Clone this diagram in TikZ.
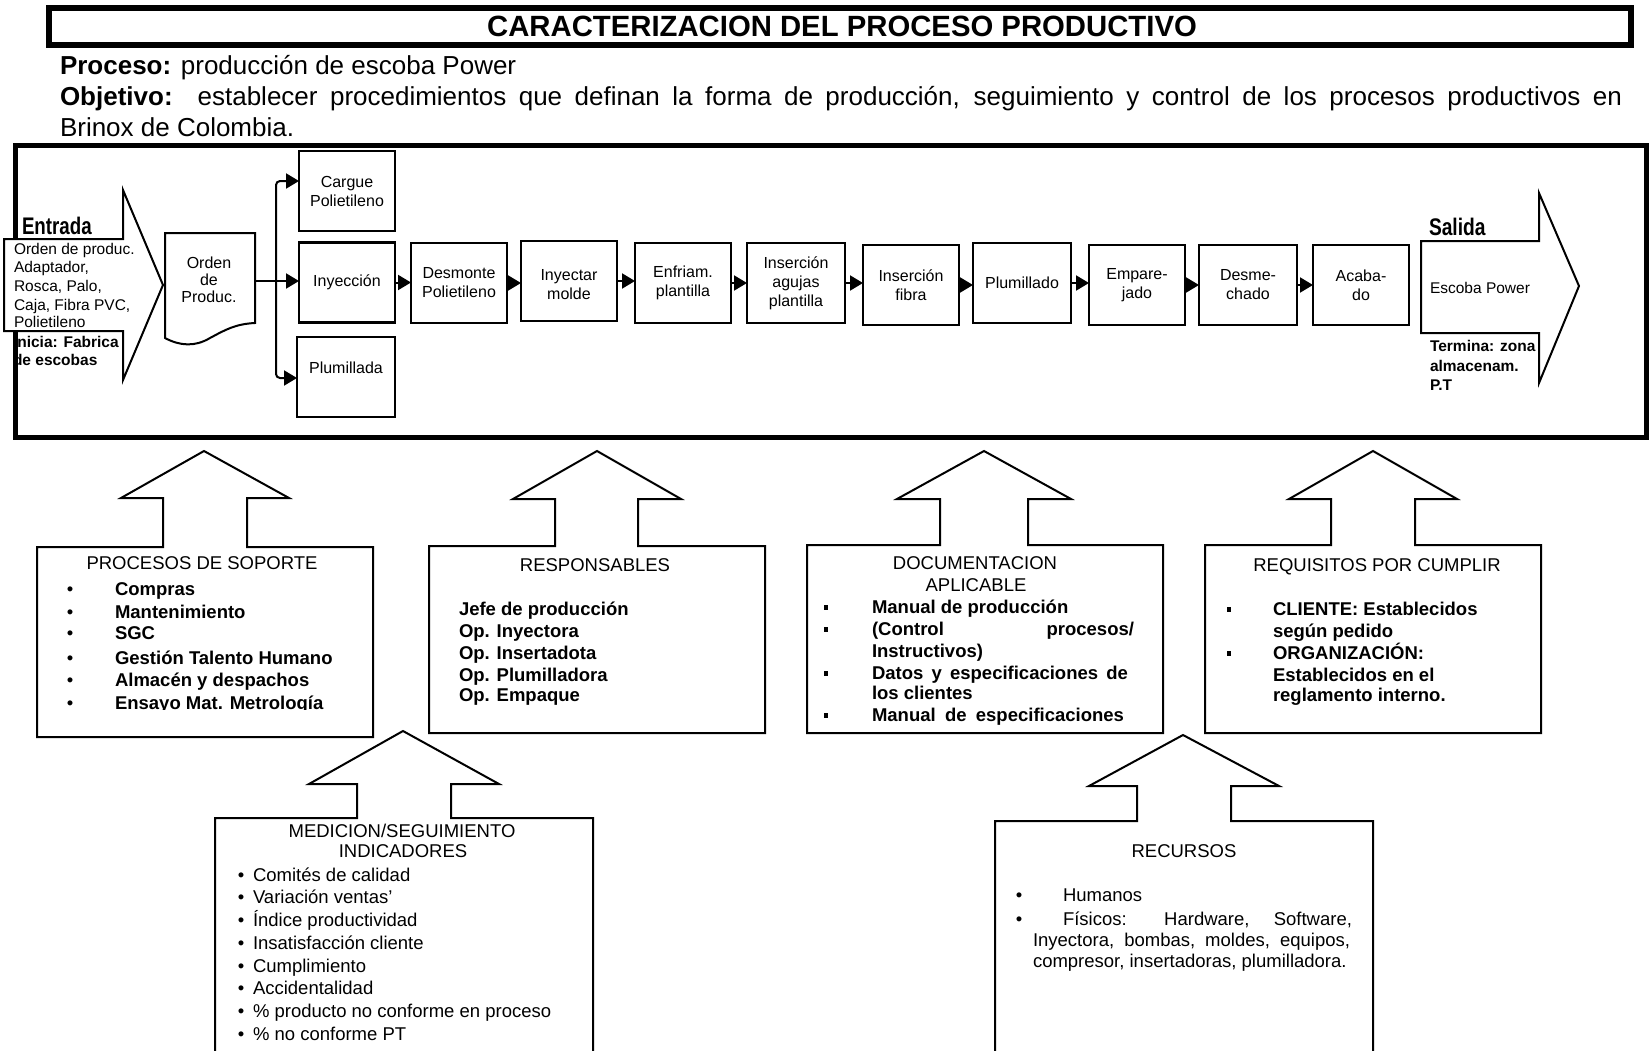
\documentclass[tikz,border=0pt]{standalone}
\usepackage{fontspec}
\setmainfont{Liberation Sans}
\usepackage{graphicx}
\usetikzlibrary{arrows.meta}

\begin{document}
\begin{tikzpicture}[x=1pt,y=-1pt,line join=miter,
  every node/.style={inner sep=0pt,outer sep=0pt},
  stepbox/.style={draw,line width=2.2pt,minimum width=96pt,minimum height=80pt,align=center,font=\fontsize{16}{19}\selectfont},
  steptxt/.style={align=center,font=\fontsize{16}{19}\selectfont},
  flow/.style={line width=2pt,-{Triangle[length=13pt,width=15pt]}},
  thinline/.style={line width=2pt},
  hdr/.style={font=\fontsize{26}{30}\selectfont},
  small/.style={font=\fontsize{15.5}{18.5}\selectfont},
  smallb/.style={font=\fontsize{15.5}{18.5}\selectfont\bfseries},
  big/.style={font=\fontsize{24}{28}\selectfont\bfseries},
  lbl/.style={font=\fontsize{18.5}{22}\selectfont},
  blbl/.style={font=\fontsize{18.5}{22}\selectfont\bfseries},
  sqbullet/.style={fill,minimum size=4.5pt}
]
\clip (0,0) rectangle (1652,1050);

% ---------- heading ----------
\draw[line width=6pt] (48.5,8) rectangle (1631,44.5);
\node (titulo) at (842,26.5) {\fontsize{29.3}{34}\selectfont\bfseries CARACTERIZACION DEL PROCESO PRODUCTIVO};

\node[hdr,anchor=base west] (proceso) at (60,74.5) {\textbf{Proceso:} producción de escoba Power};
\node[hdr,anchor=base west] (objetivo) at (60,105) {\makebox[1562pt][s]{\textbf{Objetivo:}\ \ establecer procedimientos que definan la forma de producción, seguimiento y control de los procesos productivos en}};
\node[hdr,anchor=base west] (brinox) at (60,136) {Brinox de Colombia.};

% start point text (partly hidden by the frame)
\node[smallb,anchor=base west] (inicia) at (13,347.5) {Inicia: Fabrica};
\node[smallb,anchor=base west] (inicia2) at (13,365.5) {de escobas};

% ---------- process frame ----------
\draw[line width=5pt] (15.8,145.5) rectangle (1646.5,437.5);

% input arrow
\draw[thinline,fill=white] (4,239) -- (123,239) -- (123,190) -- (163,285) -- (123,380) -- (123,331) -- (4,331) -- cycle;
\node[big,anchor=west] (entrada) at (22,226) {\scalebox{0.78}[1]{Entrada}};
\node[small,anchor=base west] (ent1) at (14,254) {Orden de produc.};
\node[small,anchor=base west] (ent2) at (14,272) {Adaptador,};
\node[small,anchor=base west] (ent3) at (14,291) {Rosca, Palo,};
\node[small,anchor=base west] (ent4) at (14,310) {Caja, Fibra PVC,};
\node[small,anchor=base west] (ent5) at (14,327) {Polietileno};

% production order document
\draw[thinline] (165,233) -- (255,233) -- (255,323)
  .. controls (235,324) and (225,330) .. (210,338)
  .. controls (195,347) and (180,346) .. (165,338) -- cycle;
\node[align=center,font=\fontsize{16}{17}\selectfont] (orden) at (209,280) {Orden\\de\\Produc.};

% process steps
\node[stepbox] (cargue) at (347,191) {Cargue\\Polietileno};
\node[stepbox] (iny) at (347,282.5) {Inyección};
\node[stepbox,minimum width=98pt] (plumillada) at (346,377) {};
\node[steptxt] (plumTxt) at (346,368) {Plumillada};
\node[stepbox] (desm) at (459,283) {Desmonte\\Polietileno};
\node[stepbox] (moldeo) at (569,281) {};
\node[steptxt] (moldeoTxt) at (569,285) {Inyectar\\molde};
\node[stepbox] (enfr) at (683,283) {Enfriam.\\plantilla};
\node[stepbox,minimum width=98pt] (agujas) at (796,283) {Inserción\\agujas\\plantilla};
\node[stepbox] (fibra) at (911,285) {Inserción\\fibra};
\node[stepbox,minimum width=98pt] (plumado) at (1022,283) {Plumillado};
\node[stepbox] (empar) at (1137,285) {Empare-\\jado};
\node[stepbox,minimum width=98pt] (desme) at (1248,285) {Desme-\\chado};
\node[stepbox] (acab) at (1361,285) {Acaba-\\do};

% branching from the order
\coordinate (ordenR) at (255,281);
\coordinate (bus) at (276,281);
\draw[thinline] (ordenR) -- (bus);
\draw[flow,rounded corners=4pt] (bus) |- ([yshift=10pt]cargue.west);
\draw[flow] (bus) -- (bus -| iny.west);
\draw[flow,rounded corners=4pt] (bus) |- ([yshift=-1pt]plumillada.west);

\foreach \a/\b in {iny/desm,desm/moldeo,moldeo/enfr,enfr/agujas,agujas/fibra,fibra/plumado,plumado/empar,empar/desme,desme/acab}
  \draw[flow] (\a.east) -- (\a.east -| \b.west);

% output arrow
\draw[thinline,fill=white] (1421,241) -- (1539,241) -- (1539,193) -- (1579,286) -- (1539,383) -- (1539,333) -- (1421,333) -- cycle;
\node[big,anchor=west] (salida) at (1429,227) {\scalebox{0.8}[1]{Salida}};
\node[small,anchor=west] (escoba) at (1430,288) {Escoba Power};
\node[smallb,anchor=base west] (term1) at (1430,351.5) {Termina: zona};
\node[smallb,anchor=base west] (term2) at (1430,371) {almacenam.};
\node[smallb,anchor=base west] (term3) at (1430,390.5) {P.T};

% ---------- support boxes with upward arrows ----------
\draw[thinline] (163,547) -- (37,547) -- (37,737) -- (373,737) -- (373,547) -- (247,547) -- (247,498) -- (289,498) -- (204,451) -- (121,498) -- (163,498) -- cycle;
\draw[thinline] (555,546) -- (429,546) -- (429,733) -- (765,733) -- (765,546) -- (638,546) -- (638,499) -- (681,499) -- (597,451) -- (513,499) -- (555,499) -- cycle;
\draw[thinline] (940,545) -- (807,545) -- (807,733) -- (1163,733) -- (1163,545) -- (1028,545) -- (1028,499) -- (1071,499) -- (984,451) -- (897,499) -- (940,499) -- cycle;
\draw[thinline] (1331,545) -- (1205,545) -- (1205,733) -- (1541,733) -- (1541,545) -- (1415,545) -- (1415,499) -- (1457,499) -- (1373,451) -- (1289,499) -- (1331,499) -- cycle;
\draw[thinline] (357,818) -- (215,818) -- (215,1062) -- (593,1062) -- (593,818) -- (451,818) -- (451,784) -- (499,784) -- (403,731) -- (309,784) -- (357,784) -- cycle;
\draw[thinline] (1137,821) -- (995,821) -- (995,1062) -- (1373,1062) -- (1373,821) -- (1231,821) -- (1231,786) -- (1279,786) -- (1183,735) -- (1089,786) -- (1137,786) -- cycle;

% support processes
\node[lbl,anchor=base] (sopT) at (202,569.5) {PROCESOS DE SOPORTE};
\node[lbl,anchor=base] (sopB1) at (70,595.5) {•};
\node[lbl,anchor=base] (sopB2) at (70,618.5) {•};
\node[lbl,anchor=base] (sopB3) at (70,639.5) {•};
\node[lbl,anchor=base] (sopB4) at (70,664.5) {•};
\node[lbl,anchor=base] (sopB5) at (70,686.5) {•};
\node[lbl,anchor=base] (sopB6) at (70,709.5) {•};
\node[blbl,anchor=base west] (sop1) at (115,595.5) {Compras};
\node[blbl,anchor=base west] (sop2) at (115,618.5) {Mantenimiento};
\node[blbl,anchor=base west] (sop3) at (115,639.5) {SGC};
\node[blbl,anchor=base west] (sop4) at (115,664.5) {Gestión Talento Humano};
\node[blbl,anchor=base west] (sop5) at (115,686.5) {Almacén y despachos};
\begin{scope}
  \clip (0,0) rectangle (1652,709.5);
  \node[blbl,anchor=base west] (sop6) at (115,709.5) {Ensayo Mat. Metrología};
\end{scope}

% people in charge
\node[lbl,anchor=base] (respT) at (595,571.5) {RESPONSABLES};
\node[blbl,anchor=base west] (resp1) at (459,615.5) {Jefe de producción};
\node[blbl,anchor=base west] (resp2) at (459,637.5) {Op. Inyectora};
\node[blbl,anchor=base west] (resp3) at (459,659.5) {Op. Insertadota};
\node[blbl,anchor=base west] (resp4) at (459,681.5) {Op. Plumilladora};
\node[blbl,anchor=base west] (resp5) at (459,701.5) {Op. Empaque};

% documentation
\node[lbl,anchor=base] (docT1) at (975,569.5) {DOCUMENTACION};
\node[lbl,anchor=base] (docT2) at (976,591.5) {APLICABLE};
\node[sqbullet] (docB1) at (826,607.5) {};
\node[sqbullet] (docB2) at (826,629.5) {};
\node[sqbullet] (docB3) at (826,673.5) {};
\node[sqbullet] (docB4) at (826,715.5) {};
\node[blbl,anchor=base west] (doc1) at (872,613.5) {Manual de producción};
\node[blbl,anchor=base west] (doc2) at (872,635.5) {\makebox[262pt][s]{(Control procesos/}};
\node[blbl,anchor=base west] (doc3) at (872,657.5) {Instructivos)};
\node[blbl,anchor=base west] (doc4) at (872,679.5) {\makebox[256pt][s]{Datos y especificaciones de}};
\node[blbl,anchor=base west] (doc5) at (872,699.5) {los clientes};
\node[blbl,anchor=base west] (doc6) at (872,721.5) {\makebox[252pt][s]{Manual de especificaciones}};

% requirements
\node[lbl,anchor=base] (reqT) at (1377,571.5) {REQUISITOS POR CUMPLIR};
\node[sqbullet] (reqB1) at (1229,609.5) {};
\node[sqbullet] (reqB2) at (1229,653.5) {};
\node[blbl,anchor=base west] (req1) at (1273,615.5) {CLIENTE: Establecidos};
\node[blbl,anchor=base west] (req2) at (1273,637.5) {según pedido};
\node[blbl,anchor=base west] (req3) at (1273,659.5) {ORGANIZACIÓN:};
\node[blbl,anchor=base west] (req4) at (1273,681.5) {Establecidos en el};
\node[blbl,anchor=base west] (req5) at (1273,701.5) {reglamento interno.};

% measurement and indicators
\node[lbl,anchor=base] (medT1) at (402,837.5) {MEDICION/SEGUIMIENTO};
\node[lbl,anchor=base] (medT2) at (403,857.5) {INDICADORES};
\node[lbl,anchor=base] (medB1) at (241,881.5) {•};
\node[lbl,anchor=base] (medB2) at (241,903.5) {•};
\node[lbl,anchor=base] (medB3) at (241,926.5) {•};
\node[lbl,anchor=base] (medB4) at (241,949.5) {•};
\node[lbl,anchor=base] (medB5) at (241,972.5) {•};
\node[lbl,anchor=base] (medB6) at (241,994.5) {•};
\node[lbl,anchor=base] (medB7) at (241,1017.5) {•};
\node[lbl,anchor=base] (medB8) at (241,1040.5) {•};
\node[lbl,anchor=base west] (med1) at (253,881.5) {Comités de calidad};
\node[lbl,anchor=base west] (med2) at (253,903.5) {Variación ventas’};
\node[lbl,anchor=base west] (med3) at (253,926.5) {Índice productividad};
\node[lbl,anchor=base west] (med4) at (253,949.5) {Insatisfacción cliente};
\node[lbl,anchor=base west] (med5) at (253,972.5) {Cumplimiento};
\node[lbl,anchor=base west] (med6) at (253,994.5) {Accidentalidad};
\node[lbl,anchor=base west] (med7) at (253,1017.5) {\% producto no conforme en proceso};
\node[lbl,anchor=base west] (med8) at (253,1040.5) {\% no conforme PT};

% resources
\node[lbl,anchor=base] (recT) at (1184,857.5) {RECURSOS};
\node[lbl,anchor=base] (recB1) at (1019,901.5) {•};
\node[lbl,anchor=base] (recB2) at (1019,925.5) {•};
\node[lbl,anchor=base west] (rec1) at (1063,901.5) {Humanos};
\node[lbl,anchor=base west] (rec2) at (1063,925.5) {\makebox[289pt][s]{Físicos: Hardware, Software,}};
\node[lbl,anchor=base west] (rec3) at (1033,946.5) {\makebox[317pt][s]{Inyectora, bombas, moldes, equipos,}};
\node[lbl,anchor=base west] (rec4) at (1033,967.5) {compresor, insertadoras, plumilladora.};

\end{tikzpicture}
\end{document}
